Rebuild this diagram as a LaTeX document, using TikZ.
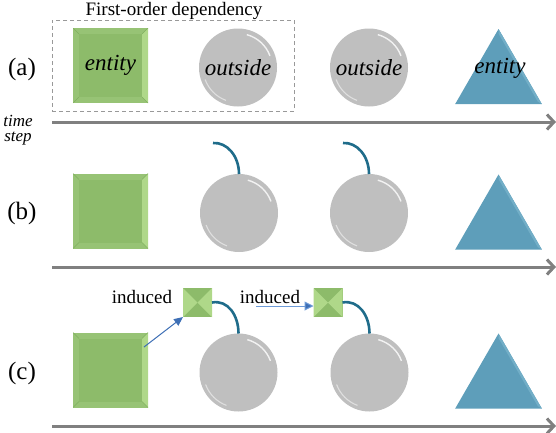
\documentclass[tikz,border=0pt]{standalone}
\usepackage{fontspec}
\setmainfont{Liberation Serif}
\usetikzlibrary{arrows.meta,shapes.geometric}
\definecolor{gface}{HTML}{8DBB6A}
\definecolor{gedge}{HTML}{97C375}
\definecolor{gright}{HTML}{AFD889}
\definecolor{gline}{HTML}{80AF5F}
\definecolor{cgray}{HTML}{BFBFBF}
\definecolor{tblue}{HTML}{5E9EBA}
\definecolor{tlight}{HTML}{72AEC7}
\definecolor{hookc}{HTML}{1F6C8A}
\definecolor{axisc}{HTML}{808080}
\definecolor{arrc}{HTML}{3E6FB5}
\definecolor{arrl}{HTML}{6D9BD8}
\begin{document}
\begin{tikzpicture}[x=1pt,y=-1pt,
  gsq/.style={rectangle, minimum size=75pt, inner sep=0pt, outer sep=0pt, fill=gedge,
    font=\fontsize{23}{27}\selectfont\itshape,
    path picture={
      \fill[gface] ([shift={(6pt,6pt)}]path picture bounding box.south west) rectangle ([shift={(-6pt,-6pt)}]path picture bounding box.north east);
      \fill[gright] (path picture bounding box.north east) -- (path picture bounding box.south east) -- ([shift={(-6pt,6pt)}]path picture bounding box.south east) -- ([shift={(-6pt,-6pt)}]path picture bounding box.north east) -- cycle;
      \draw[gline, line width=0.6pt] (path picture bounding box.south west) -- ++(6pt,6pt)
        (path picture bounding box.north west) -- ++(6pt,-6pt)
        (path picture bounding box.north east) -- ++(-6pt,-6pt)
        (path picture bounding box.south east) -- ++(-6pt,6pt);
    }},
  gsm/.style={rectangle, minimum size=29pt, inner sep=0pt, outer sep=0pt, fill=gface,
    path picture={
      \fill[gright] (path picture bounding box.south west) -- (path picture bounding box.center) -- (path picture bounding box.north west) -- cycle;
      \fill[gright] (path picture bounding box.south east) -- (path picture bounding box.center) -- (path picture bounding box.north east) -- cycle;
    }},
  circ/.style={circle, minimum size=78pt, inner sep=0pt, outer sep=0pt, fill=cgray,
    font=\fontsize{23}{27}\selectfont\itshape,
    path picture={
      \draw[white, line width=1.4pt, opacity=0.8] (path picture bounding box.center) ++(20:34pt) arc (20:75:34pt);
      \draw[white, line width=1.1pt, opacity=0.5] (path picture bounding box.center) ++(200:35pt) arc (200:250:35pt);
    }},
  tri/.style={regular polygon, regular polygon sides=3, minimum size=100pt, inner sep=0pt, outer sep=0pt, fill=tblue},
  axis/.style={draw=axisc, line width=3pt, -{Straight Barb[length=7pt,width=15pt]}},
  hook/.style={draw=hookc, line width=2.6pt},
  lbl/.style={font=\fontsize{25}{29}\selectfont},
  ital/.style={font=\fontsize{23}{27}\selectfont\itshape},
  ind/.style={font=\fontsize{19}{22}\selectfont},
  dbox/.style={draw=gray!80, dash pattern=on 4pt off 3pt, line width=0.8pt, minimum width=242pt, minimum height=91pt, inner sep=0pt}
]
\useasboundingbox (0,0) rectangle (556,432);

% ---------- row (a)
\node[dbox] (fo) at (173,65.5) {};
\node[ind, inner sep=0pt] (fotitle) at (174,11) {First-order dependency};
\node[lbl] (la) at (22,69) {(a)};
\node[gsq] (sa) at (110.5,65.5) {entity};
\node[circ] (ca1) at (238,67.5) {outside};
\node[circ] (ca2) at (369,67.5) {outside};
\node[tri] (ta) at (498.5,79) {};
\fill[tlight] (ta.corner 1) -- (ta.corner 3) -- ([shift={(-4pt,2.3pt)}]ta.corner 3) -- ([shift={(0pt,-4.6pt)}]ta.corner 1) -- cycle;
\node[ital] (tea) at (500,68) {entity};
\coordinate (a0) at (52,122);
\coordinate (a1) at (556,122);
\draw[axis] (a0) -- (a1);
\node[font=\fontsize{17}{20}\selectfont\itshape] (time) at (18,121) {time};
\node[font=\fontsize{17}{20}\selectfont\itshape] (step) at (18,139) {step};

% ---------- row (b)
\node[lbl] (lb) at (22,213) {(b)};
\node[gsq] (sb) at (110.5,211) {};
\node[circ] (cb1) at (239,213) {};
\node[circ] (cb2) at (369,213) {};
\node[tri] (tb) at (498.5,224.5) {};
\fill[tlight] (tb.corner 1) -- (tb.corner 3) -- ([shift={(-4pt,2.3pt)}]tb.corner 3) -- ([shift={(0pt,-4.6pt)}]tb.corner 1) -- cycle;
\coordinate (hb1) at (213,143);
\coordinate (hb2) at (343,143);
\draw[hook] (cb1.north) .. controls +(0,-18) and +(14,-1) .. (hb1);
\draw[hook] (cb2.north) .. controls +(0,-18) and +(14,-1) .. (hb2);
\coordinate (b0) at (52,267);
\coordinate (b1) at (556,267);
\draw[axis] (b0) -- (b1);

% ---------- row (c)
\node[lbl] (lc) at (22,373) {(c)};
\node[gsq] (sc) at (110.5,370) {};
\node[circ] (cc1) at (238.5,372.5) {};
\node[circ] (cc2) at (369.5,372.5) {};
\node[tri] (tc) at (498.5,383.5) {};
\fill[tlight] (tc.corner 1) -- (tc.corner 3) -- ([shift={(-4pt,2.3pt)}]tc.corner 3) -- ([shift={(0pt,-4.6pt)}]tc.corner 1) -- cycle;
\node[gsm] (m1) at (197.5,302.5) {};
\node[gsm] (m2) at (328,302.5) {};
\node[ind] (i1) at (142,297) {induced};
\node[ind] (i2) at (270,297) {induced};
\coordinate (ar0) at (144,347);
\draw[arrc, line width=1pt, -{Triangle[length=9pt,width=8pt]}] (ar0) -- (m1.south west);
\coordinate (ar1) at (256,306);
\draw[arrl, line width=1pt, -{Triangle[length=9pt,width=9pt,fill=arrc]}] (ar1) -- (m2.west |- ar1);
\draw[hook] (m1.east) .. controls +(16,-3) and +(0,-18) .. (cc1.north);
\draw[hook] (m2.east) .. controls +(16,-3) and +(0,-18) .. (cc2.north);
\coordinate (c0) at (52,426);
\coordinate (c1) at (556,426);
\draw[axis] (c0) -- (c1);
\end{tikzpicture}
\end{document}
